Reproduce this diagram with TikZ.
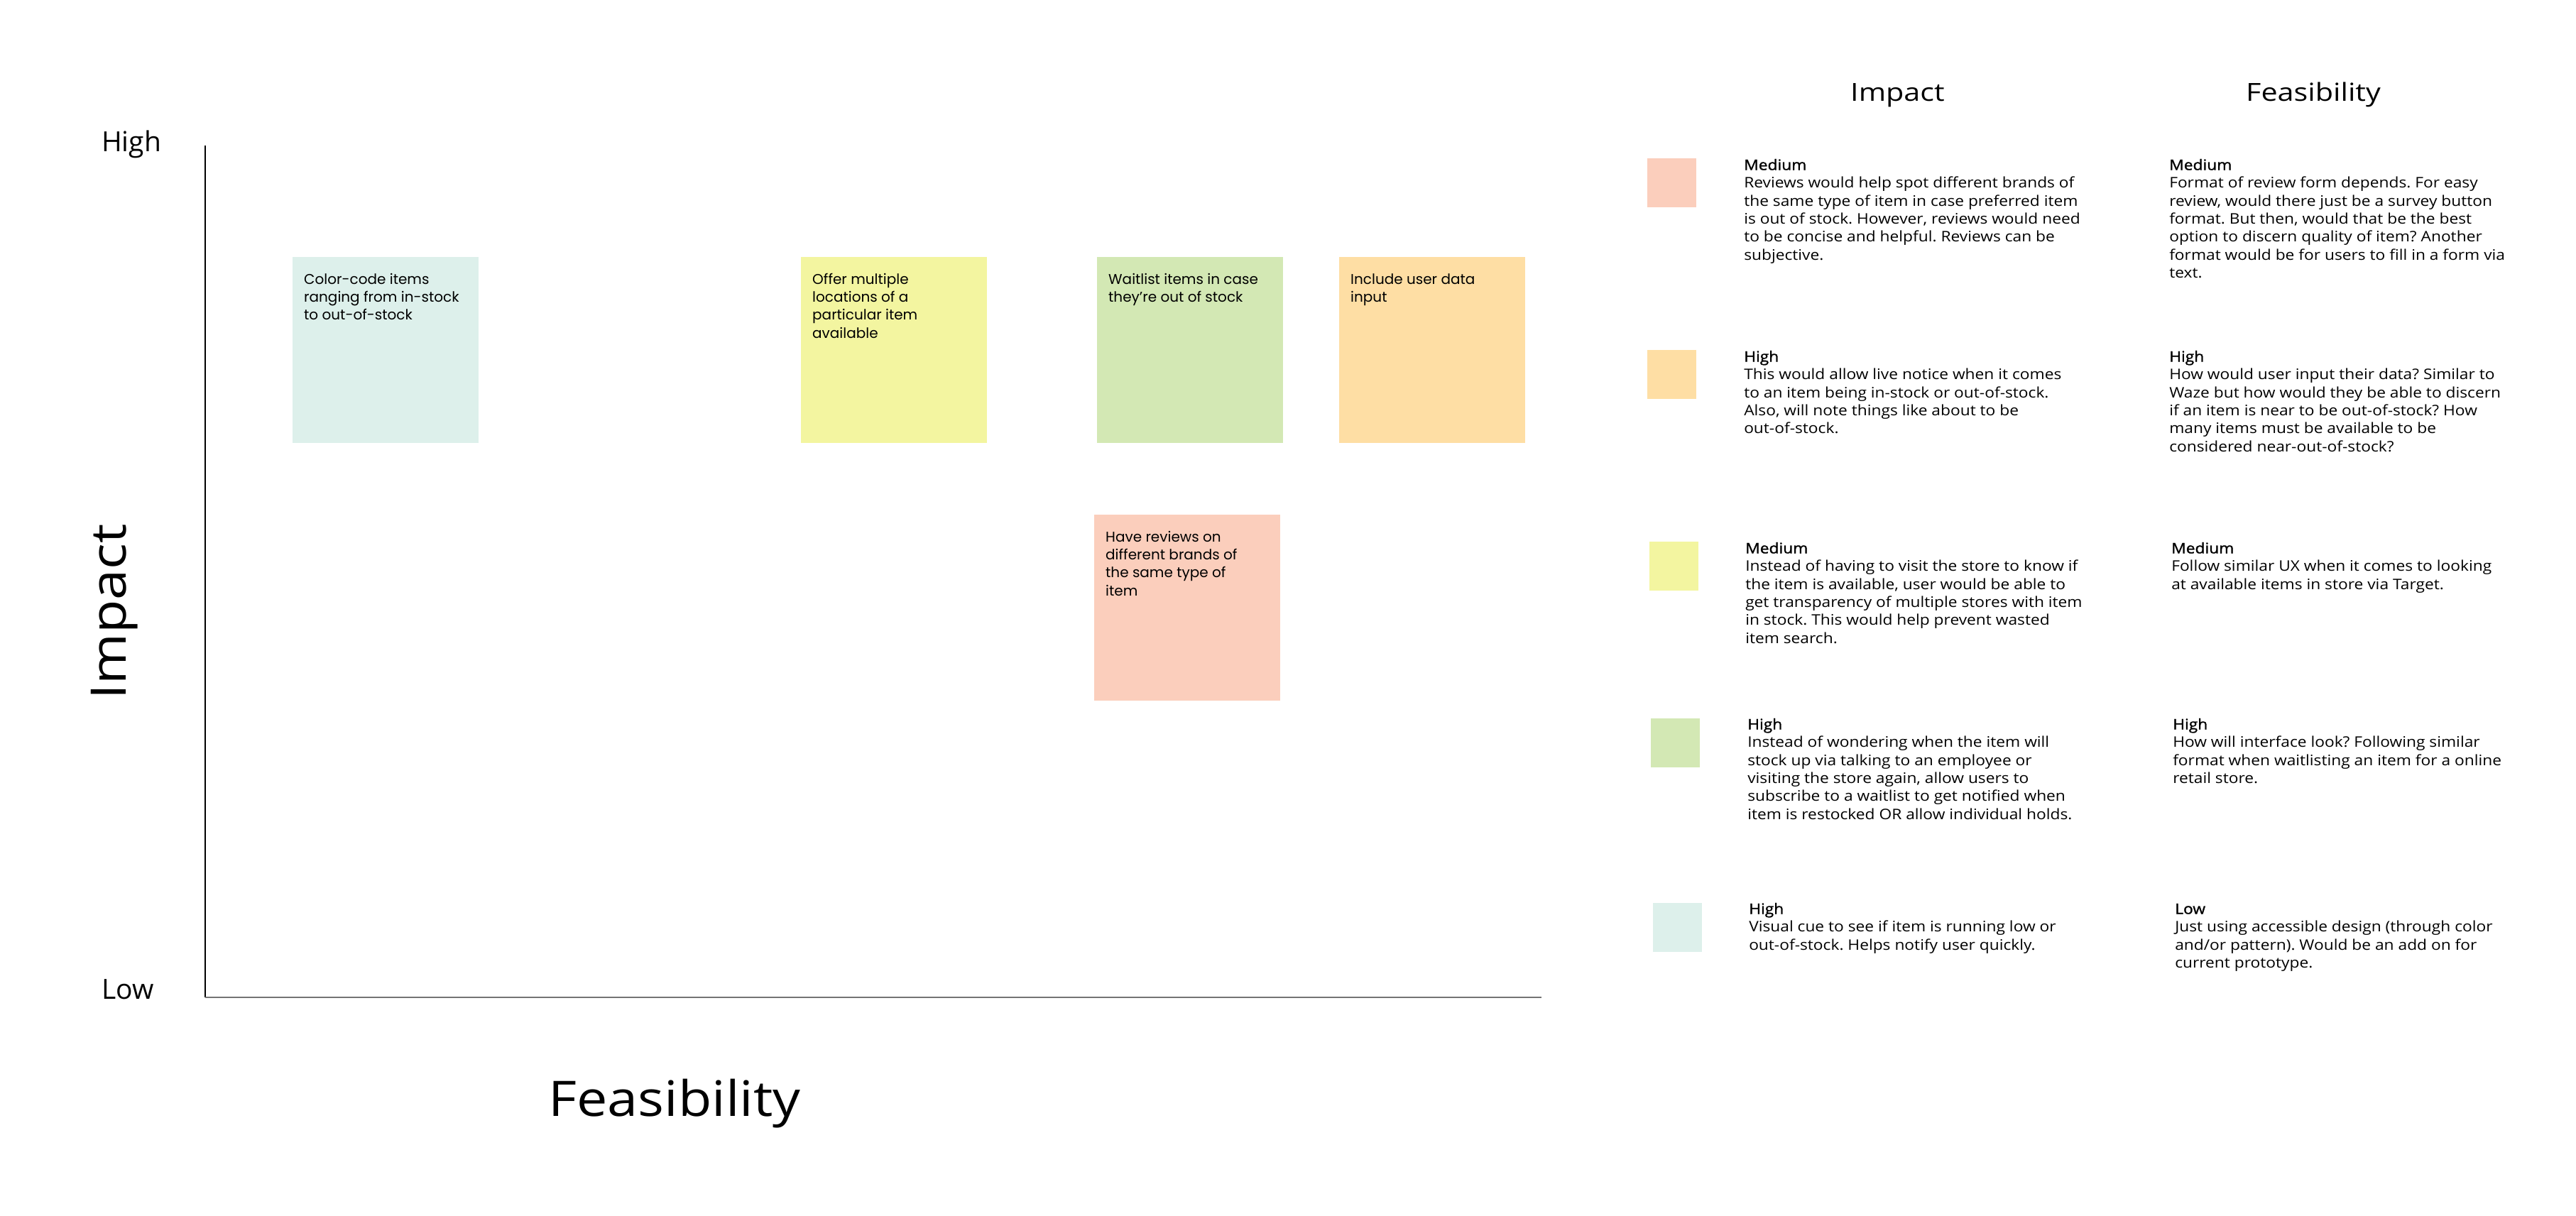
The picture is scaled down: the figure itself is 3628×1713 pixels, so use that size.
\documentclass[tikz,border=0pt]{standalone}
\usepackage{fontspec}
\setmainfont{Open Sans}
\newfontfamily\notefont{Poppins}
\newfontfamily\headfont[FakeBold=1.2]{Open Sans}
\usetikzlibrary{positioning}

\definecolor{mint}{RGB}{221,240,235}
\definecolor{lemon}{RGB}{243,245,160}
\definecolor{sage}{RGB}{211,232,180}
\definecolor{apricot}{RGB}{254,222,164}
\definecolor{salmon}{RGB}{251,206,188}
\definecolor{axisgray}{RGB}{115,115,115}

\newcommand{\legfont}{\frenchspacing\fontsize{20.5bp}{25.3bp}\selectfont}
\newcommand{\lvl}[1]{{\headfont #1}}

\tikzset{
  note/.style={minimum width=262bp, minimum height=262bp, inner sep=0pt, outer sep=0pt, anchor=north west},
  notetext/.style={anchor=north west, inner sep=0pt, align=left, font=\notefont\frenchspacing\fontsize{20bp}{25.3bp}\selectfont},
  swatch/.style={minimum size=69bp, inner sep=0pt, outer sep=0pt, anchor=north west},
  legtext/.style={anchor=north west, inner sep=0pt, align=left, font=\legfont, xscale=1.11, transform shape},
  colhead/.style={anchor=base west, inner sep=0pt, font=\fontsize{35bp}{40bp}\selectfont},
  axislabel/.style={anchor=base, inner sep=0pt, font=\fontsize{69bp}{80bp}\selectfont},
  endlabel/.style={anchor=base west, inner sep=0pt, font=\fontsize{39bp}{45bp}\selectfont},
}

\begin{document}
\begin{tikzpicture}[x=1bp, y=-1bp]
  \useasboundingbox[fill=white] (0,0) rectangle (3628,1713);

  % axes
  \coordinate (ytop) at (289,205);
  \coordinate (orig) at (289,1405);
  \coordinate (xend) at (2171,1405);
  \draw[line width=1.6bp, black] (ytop) -- (orig);
  \draw[line width=1.8bp, axisgray] (orig) -- (xend);

  \node[endlabel] (high) at (143,213) {High};
  \node[endlabel] (low) at (143,1407) {Low};
  \node[axislabel, rotate=90] (impact) at (177,862) {\scalebox{1.12}[1]{Impact}};
  \node[axislabel] (feas) at (950,1572) {\scalebox{1.12}[1]{Feasibility}};

  % sticky notes
  \node[note, fill=mint] (n1) at (412,362) {};
  \node[notetext] (t1) at ([shift={(16,20.3)}]n1.north west) {\strut Color-code items\\ranging from in-stock\\to out-of-stock};

  \node[note, fill=lemon] (n2) at (1128,362) {};
  \node[notetext] (t2) at ([shift={(16,20.3)}]n2.north west) {\strut Offer multiple\\locations of a\\particular item\\available};

  \node[note, fill=sage] (n3) at (1545,362) {};
  \node[notetext] (t3) at ([shift={(16,20.3)}]n3.north west) {\strut Waitlist items in case\\they’re out of stock};

  \node[note, fill=apricot] (n4) at (1886,362) {};
  \node[notetext] (t4) at ([shift={(16,20.3)}]n4.north west) {\strut Include user data\\input};

  \node[note, fill=salmon] (n5) at (1541,725) {};
  \node[notetext] (t5) at ([shift={(16,20.3)}]n5.north west) {\strut Have reviews on\\different brands of\\the same type of\\item};

  % legend column headings
  \node[colhead] (hImpact) at (2606,142) {\scalebox{1.18}[1]{Impact}};
  \node[colhead] (hFeas) at (3163,142) {\scalebox{1.18}[1]{Feasibility}};

  % legend row 1
  \node[swatch, fill=salmon] (s1) at (2320,223) {};
  \node[legtext] (l1) at (2456,221.6) {\strut\lvl{Medium}\\Reviews would help spot different brands of\\the same type of item in case preferred item\\is out of stock. However, reviews would need\\to be concise and helpful. Reviews can be\\subjective.};
  \node[legtext] (r1) at (3055,221.6) {\strut\lvl{Medium}\\Format of review form depends. For easy\\review, would there just be a survey button\\format. But then, would that be the best\\option to discern quality of item? Another\\format would be for users to fill in a form via\\text.};

  % legend row 2
  \node[swatch, fill=apricot] (s2) at (2320,493) {};
  \node[legtext] (l2) at (2456,491.6) {\strut\lvl{High}\\This would allow live notice when it comes\\to an item being in-stock or out-of-stock.\\Also, will note things like about to be\\out-of-stock.};
  \node[legtext] (r2) at (3055,491.6) {\strut\lvl{High}\\How would user input their data? Similar to\\Waze but how would they be able to discern\\if an item is near to be out-of-stock? How\\many items must be available to be\\considered near-out-of-stock?};

  % legend row 3
  \node[swatch, fill=lemon] (s3) at (2323,763) {};
  \node[legtext] (l3) at (2458,761.6) {\strut\lvl{Medium}\\Instead of having to visit the store to know if\\the item is available, user would be able to\\get transparency of multiple stores with item\\in stock. This would help prevent wasted\\item search.};
  \node[legtext] (r3) at (3058,761.6) {\strut\lvl{Medium}\\Follow similar UX when it comes to looking\\at available items in store via Target.};

  % legend row 4
  \node[swatch, fill=sage] (s4) at (2325,1012) {};
  \node[legtext] (l4) at (2461,1009.6) {\strut\lvl{High}\\Instead of wondering when the item will\\stock up via talking to an employee or\\visiting the store again, allow users to\\subscribe to a waitlist to get notified when\\item is restocked OR allow individual holds.};
  \node[legtext] (r4) at (3060,1009.6) {\strut\lvl{High}\\How will interface look? Following similar\\format when waitlisting an item for a online\\retail store.};

  % legend row 5
  \node[swatch, fill=mint] (s5) at (2328,1272) {};
  \node[legtext] (l5) at (2463,1269.6) {\strut\lvl{High}\\Visual cue to see if item is running low or\\out-of-stock. Helps notify user quickly.};
  \node[legtext] (r5) at (3063,1269.6) {\strut\lvl{Low}\\Just using accessible design (through color\\and/or pattern). Would be an add on for\\current prototype.};
\end{tikzpicture}
\end{document}
